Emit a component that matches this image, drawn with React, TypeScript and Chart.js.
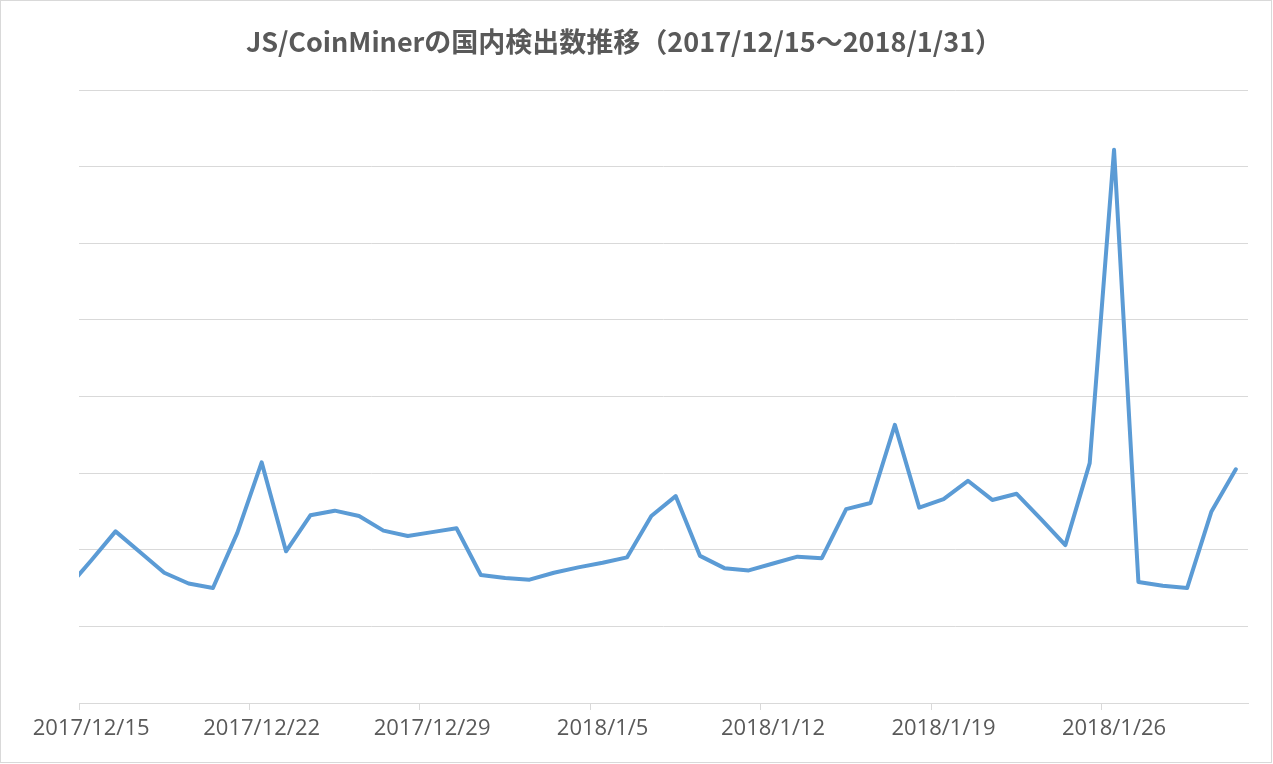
import React, { useEffect, useRef } from "react";
import { Chart, registerables } from "chart.js";

Chart.register(...registerables);

const TITLE = "JS/CoinMinerの国内検出数推移（2017/12/15～2018/1/31）";

// first label (2017/12/14) lies just outside the visible range (clipped)
const dates = [
  "2017/12/14",
  "2017/12/15", "2017/12/16", "2017/12/17", "2017/12/18", "2017/12/19", "2017/12/20", "2017/12/21",
  "2017/12/22", "2017/12/23", "2017/12/24", "2017/12/25", "2017/12/26", "2017/12/27", "2017/12/28",
  "2017/12/29", "2017/12/30", "2017/12/31", "2018/1/1", "2018/1/2", "2018/1/3", "2018/1/4",
  "2018/1/5", "2018/1/6", "2018/1/7", "2018/1/8", "2018/1/9", "2018/1/10", "2018/1/11",
  "2018/1/12", "2018/1/13", "2018/1/14", "2018/1/15", "2018/1/16", "2018/1/17", "2018/1/18",
  "2018/1/19", "2018/1/20", "2018/1/21", "2018/1/22", "2018/1/23", "2018/1/24", "2018/1/25",
  "2018/1/26", "2018/1/27", "2018/1/28", "2018/1/29", "2018/1/30", "2018/1/31",
];

const detections = [
  149,
  186, 224, 197, 170, 156, 150, 222,
  314, 198, 245, 251, 244, 225, 218,
  223, 228, 167, 163, 161, 170, 177,
  183, 190, 244, 270, 192, 176, 173,
  182, 191, 189, 253, 261, 363, 255,
  266, 290, 265, 273, 240, 206, 313,
  722, 158, 153, 150, 250, 305,
];

const Y_MAX = 800;
const Y_STEP = 100;

const borderPlugin = {
  id: "outerBorder",
  beforeDraw(chart: any) {
    const { ctx, width, height } = chart;
    ctx.save();
    ctx.fillStyle = "#ffffff";
    ctx.fillRect(0, 0, width, height);
    ctx.strokeStyle = "#d9d9d9";
    ctx.lineWidth = 1;
    ctx.strokeRect(0.5, 0.5, width - 2, height - 2);
    ctx.restore();
  },
};

export default function App() {
  const ref = useRef<HTMLCanvasElement | null>(null);

  useEffect(() => {
    document.body.style.margin = "0";
    const canvas = ref.current;
    if (!canvas) return;
    const chart = new Chart(canvas, {
      type: "line",
      data: {
        labels: dates,
        datasets: [
          {
            data: detections,
            borderColor: "#5b9bd5",
            backgroundColor: "#5b9bd5",
            borderWidth: 4,
            pointRadius: 0,
            tension: 0,
            borderJoinStyle: "round",
            borderCapStyle: "round",
            clip: { left: 0, top: 10, right: 10, bottom: 10 } as any,
          },
        ],
      },
      options: {
        animation: false,
        responsive: false,
        maintainAspectRatio: false,
        layout: { padding: { left: 0, right: 25, top: 0, bottom: 0 } },
        plugins: {
          legend: { display: false },
          tooltip: { enabled: false },
          title: {
            display: true,
            text: TITLE,
            color: "#595959",
            font: { family: "'Noto Sans CJK JP', sans-serif", size: 27, weight: "bold" },
            padding: { top: 26, bottom: 31.6 },
          },
        },
        scales: {
          x: {
            type: "category",
            min: dates[1],
            offset: true,
            afterFit: (s: any) => {
              s.height = 61;
            },
            border: { display: true, color: "#d9d9d9", width: 1 },
            grid: {
              offset: true,
              drawOnChartArea: false,
              drawTicks: true,
              tickLength: 7,
              color: (c: any) => (c.index % 7 === 0 ? "#d9d9d9" : "rgba(0,0,0,0)"),
            },
            ticks: {
              autoSkip: false,
              maxRotation: 0,
              minRotation: 0,
              padding: 6,
              color: "#595959",
              font: { family: "'Open Sans', sans-serif", size: 22 },
              callback: function (this: any, value: any, index: number) {
                return index % 7 === 0 ? this.getLabelForValue(value) : "";
              },
            },
          },
          y: {
            min: 0,
            max: Y_MAX,
            afterFit: (s: any) => {
              s.width = 79;
            },
            border: { display: false },
            grid: { color: "#d9d9d9", lineWidth: 1, drawTicks: false, tickLength: 0 },
            ticks: { display: false, stepSize: Y_STEP },
          },
        },
      },
      plugins: [borderPlugin],
    });
    return () => chart.destroy();
  }, []);

  return (
    <div style={{ width: 1273, height: 764, position: "relative" }}>
      <canvas ref={ref} width={1273} height={764} style={{ width: 1273, height: 764, display: "block" }} />
    </div>
  );
}
